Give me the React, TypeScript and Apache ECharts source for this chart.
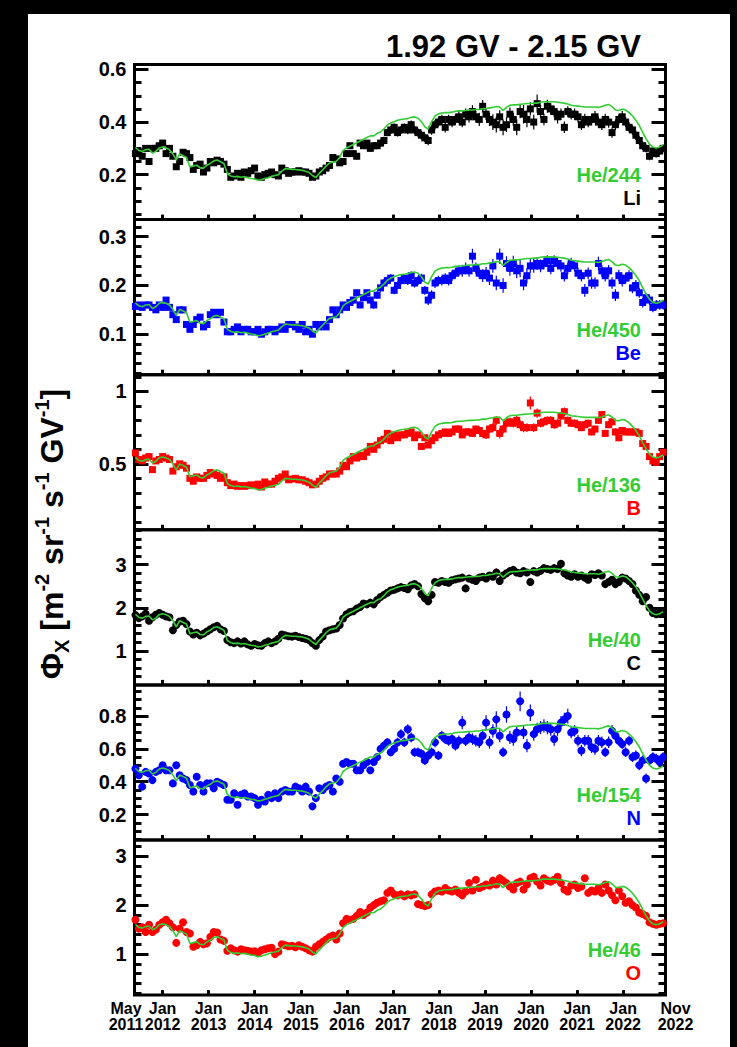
import { useEffect, useRef } from 'react';
import * as echarts from 'echarts';

const FONT = '"Liberation Sans", Arial, Helvetica, sans-serif';
const GREEN = '#33cc33';

// time axis (decimal years)
const X_MIN = 2011.39;
const X_MAX = 2022.92;
const FIRST_ROTATION = 2011.41;
const ROTATION_YEARS = 27 / 365.25;
const yearTicks = [2012, 2013, 2014, 2015, 2016, 2017, 2018, 2019, 2020, 2021, 2022];
const edgeLabels = ['May\n2011', 'Nov\n2022'];

// He flux (model curve), m^-2 sr^-1 s^-1 GV^-1, one value per Bartels rotation
const heFlux = [
  74.0, 71.2, 70.4, 72.0, 72.4, 68.8, 70.4, 73.6, 74.4, 73.6,
  72.0, 68.0, 62.4, 68.0, 66.4, 64.8, 56.0, 56.8, 57.6, 55.2,
  54.8, 57.6, 59.2, 61.6, 62.4, 60.8, 59.2, 49.6, 47.6, 46.8,
  47.2, 46.4, 46.8, 46.0, 45.2, 44.8, 43.6, 44.0, 45.2, 46.0,
  47.2, 48.0, 48.8, 52.0, 54.4, 54.0, 53.6, 53.6, 53.2, 52.8,
  52.0, 50.8, 48.0, 46.0, 50.0, 53.2, 56.8, 59.6, 60.4, 61.2,
  64.8, 71.2, 73.6, 75.2, 76.8, 78.4, 80.0, 81.6, 83.2, 84.8,
  84.8, 87.2, 88.4, 91.2, 94.8, 96.8, 98.0, 99.2, 100.0, 100.4,
  100.8, 102.0, 102.4, 101.2, 98.0, 93.2, 91.2, 98.0, 103.2, 105.2,
  106.0, 106.4, 106.4, 106.8, 107.6, 108.0, 108.0, 108.4, 108.8, 108.8,
  109.2, 109.2, 110.0, 110.0, 110.8, 111.2, 112.0, 111.6, 108.4, 111.2,
  113.2, 113.6, 113.6, 114.0, 114.4, 114.8, 114.8, 115.2, 115.2, 116.0,
  116.4, 116.4, 116.4, 116.4, 116.0, 115.6, 115.2, 114.4, 113.2, 112.8,
  112.4, 112.0, 111.6, 111.6, 111.6, 111.6, 111.2, 112.0, 113.2, 114.0,
  112.0, 108.8, 108.4, 109.6, 108.8, 106.4, 103.2, 99.2, 94.4, 88.0,
  82.0, 77.2, 74.4, 73.6, 74.4, 76.4,
];

const liFlux = [
  0.28, 0.285, 0.27, 0.30, 0.25, 0.30, 0.30, 0.31, 0.32, 0.28,
  0.30, 0.27, 0.23, 0.25, 0.285, 0.28, 0.265, 0.22, 0.235, 0.24,
  0.21, 0.225, 0.25, 0.245, 0.255, 0.25, 0.24, 0.22, 0.19, 0.195,
  0.205, 0.19, 0.21, 0.205, 0.215, 0.225, 0.195, 0.19, 0.20, 0.205,
  0.21, 0.20, 0.195, 0.225, 0.215, 0.205, 0.21, 0.21, 0.215, 0.21,
  0.21, 0.205, 0.19, 0.195, 0.21, 0.215, 0.225, 0.235, 0.265, 0.26,
  0.245, 0.25, 0.28, 0.31, 0.28, 0.27, 0.32, 0.31, 0.32, 0.30,
  0.31, 0.31, 0.32, 0.33, 0.36, 0.37, 0.38, 0.36, 0.37, 0.38,
  0.37, 0.39, 0.37, 0.36, 0.35, 0.34, 0.33, 0.37, 0.39, 0.40,
  0.41, 0.38, 0.41, 0.40, 0.41, 0.42, 0.40, 0.43, 0.42, 0.44,
  0.42, 0.41, 0.46, 0.43, 0.41, 0.40, 0.39, 0.42, 0.38, 0.39,
  0.43, 0.41, 0.38, 0.44, 0.43, 0.41, 0.45, 0.40, 0.47, 0.44,
  0.41, 0.46, 0.45, 0.44, 0.42, 0.43, 0.38, 0.44, 0.43, 0.43,
  0.42, 0.39, 0.41, 0.40, 0.41, 0.42, 0.40, 0.39, 0.41, 0.40,
  0.36, 0.39, 0.41, 0.42, 0.40, 0.38, 0.37, 0.35, 0.33, 0.31,
  0.30, 0.27, 0.29, 0.28, 0.29, 0.30,
];
const liErr = [
  0.008, 0.008, 0.008, 0.008, 0.008, 0.008, 0.008, 0.008, 0.008, 0.008,
  0.008, 0.008, 0.008, 0.008, 0.008, 0.008, 0.008, 0.008, 0.008, 0.008,
  0.008, 0.008, 0.008, 0.008, 0.008, 0.008, 0.008, 0.008, 0.008, 0.008,
  0.008, 0.008, 0.008, 0.008, 0.008, 0.008, 0.008, 0.008, 0.008, 0.008,
  0.008, 0.008, 0.008, 0.008, 0.008, 0.008, 0.008, 0.008, 0.008, 0.008,
  0.009, 0.009, 0.009, 0.009, 0.009, 0.009, 0.009, 0.009, 0.009, 0.009,
  0.010, 0.010, 0.012, 0.012, 0.012, 0.012, 0.012, 0.012, 0.012, 0.012,
  0.012, 0.012, 0.014, 0.014, 0.014, 0.015, 0.015, 0.015, 0.015, 0.015,
  0.016, 0.016, 0.016, 0.016, 0.016, 0.016, 0.018, 0.018, 0.018, 0.018,
  0.018, 0.020, 0.018, 0.020, 0.020, 0.022, 0.020, 0.022, 0.022, 0.024,
  0.022, 0.025, 0.024, 0.022, 0.025, 0.030, 0.030, 0.025, 0.030, 0.028,
  0.025, 0.025, 0.030, 0.025, 0.035, 0.030, 0.025, 0.028, 0.035, 0.025,
  0.022, 0.025, 0.022, 0.022, 0.025, 0.022, 0.022, 0.020, 0.020, 0.022,
  0.022, 0.020, 0.022, 0.020, 0.022, 0.022, 0.022, 0.020, 0.022, 0.022,
  0.020, 0.020, 0.020, 0.022, 0.020, 0.020, 0.018, 0.018, 0.016, 0.016,
  0.015, 0.015, 0.015, 0.015, 0.015, 0.015,
];

const beFlux = [
  0.157, 0.16, 0.155, 0.16, 0.16, 0.155, 0.15, 0.16, 0.155, 0.17,
  0.155, 0.14, 0.13, 0.15, 0.15, 0.12, 0.11, 0.12, 0.13, 0.135,
  0.115, 0.12, 0.14, 0.145, 0.14, 0.145, 0.125, 0.105, 0.105, 0.11,
  0.115, 0.105, 0.11, 0.11, 0.105, 0.105, 0.11, 0.10, 0.105, 0.11,
  0.11, 0.105, 0.11, 0.115, 0.11, 0.12, 0.12, 0.115, 0.11, 0.12,
  0.105, 0.11, 0.10, 0.12, 0.115, 0.12, 0.115, 0.13, 0.15, 0.14,
  0.15, 0.16, 0.155, 0.165, 0.17, 0.185, 0.16, 0.175, 0.185, 0.17,
  0.16, 0.18, 0.195, 0.205, 0.21, 0.215, 0.19, 0.20, 0.21, 0.215,
  0.21, 0.22, 0.205, 0.21, 0.215, 0.19, 0.17, 0.18, 0.205, 0.21,
  0.21, 0.215, 0.21, 0.22, 0.225, 0.23, 0.23, 0.235, 0.23, 0.26,
  0.235, 0.225, 0.22, 0.225, 0.215, 0.24, 0.205, 0.26, 0.20, 0.245,
  0.235, 0.245, 0.23, 0.235, 0.205, 0.22, 0.24, 0.24, 0.245, 0.24,
  0.245, 0.25, 0.235, 0.25, 0.245, 0.24, 0.22, 0.235, 0.245, 0.24,
  0.225, 0.22, 0.19, 0.225, 0.205, 0.205, 0.245, 0.23, 0.22, 0.23,
  0.205, 0.18, 0.22, 0.21, 0.215, 0.22, 0.195, 0.20, 0.185, 0.165,
  0.175, 0.17, 0.155, 0.16, 0.16, 0.16,
];
const beErr = [
  0.004, 0.004, 0.004, 0.004, 0.004, 0.004, 0.004, 0.004, 0.004, 0.004,
  0.004, 0.004, 0.004, 0.004, 0.004, 0.004, 0.004, 0.004, 0.004, 0.004,
  0.004, 0.004, 0.004, 0.004, 0.004, 0.004, 0.004, 0.004, 0.004, 0.004,
  0.004, 0.004, 0.004, 0.004, 0.004, 0.004, 0.004, 0.004, 0.004, 0.004,
  0.005, 0.005, 0.005, 0.005, 0.005, 0.005, 0.005, 0.005, 0.005, 0.005,
  0.005, 0.005, 0.005, 0.005, 0.005, 0.005, 0.005, 0.005, 0.005, 0.005,
  0.006, 0.006, 0.006, 0.006, 0.007, 0.007, 0.007, 0.007, 0.007, 0.007,
  0.008, 0.008, 0.008, 0.008, 0.008, 0.008, 0.008, 0.008, 0.008, 0.008,
  0.009, 0.009, 0.009, 0.009, 0.009, 0.009, 0.010, 0.010, 0.010, 0.010,
  0.010, 0.010, 0.010, 0.011, 0.011, 0.011, 0.012, 0.012, 0.012, 0.015,
  0.012, 0.012, 0.013, 0.013, 0.014, 0.014, 0.015, 0.016, 0.015, 0.015,
  0.015, 0.016, 0.015, 0.018, 0.015, 0.016, 0.014, 0.014, 0.013, 0.013,
  0.012, 0.012, 0.012, 0.012, 0.012, 0.012, 0.012, 0.012, 0.012, 0.012,
  0.012, 0.012, 0.013, 0.012, 0.012, 0.012, 0.014, 0.012, 0.012, 0.012,
  0.012, 0.012, 0.012, 0.012, 0.011, 0.011, 0.011, 0.011, 0.010, 0.010,
  0.010, 0.010, 0.010, 0.010, 0.010, 0.010,
];

const bFlux = [
  0.575, 0.53, 0.52, 0.54, 0.55, 0.46, 0.52, 0.53, 0.55, 0.54,
  0.53, 0.45, 0.48, 0.50, 0.49, 0.47, 0.40, 0.38, 0.41, 0.40,
  0.40, 0.42, 0.44, 0.43, 0.42, 0.40, 0.41, 0.37, 0.35, 0.36,
  0.345, 0.35, 0.345, 0.35, 0.355, 0.35, 0.36, 0.34, 0.375, 0.36,
  0.36, 0.38, 0.40, 0.41, 0.43, 0.39, 0.395, 0.40, 0.39, 0.39,
  0.38, 0.37, 0.355, 0.36, 0.38, 0.40, 0.41, 0.43, 0.43, 0.43,
  0.45, 0.49, 0.48, 0.52, 0.55, 0.54, 0.56, 0.55, 0.58, 0.62,
  0.60, 0.63, 0.66, 0.67, 0.71, 0.66, 0.70, 0.68, 0.70, 0.70,
  0.71, 0.72, 0.68, 0.70, 0.62, 0.68, 0.63, 0.66, 0.68, 0.70,
  0.71, 0.72, 0.71, 0.72, 0.74, 0.74, 0.70, 0.72, 0.72, 0.71,
  0.74, 0.73, 0.71, 0.70, 0.74, 0.75, 0.80, 0.71, 0.74, 0.78,
  0.79, 0.78, 0.80, 0.77, 0.75, 0.75, 0.92, 0.75, 0.85, 0.78,
  0.79, 0.80, 0.80, 0.77, 0.78, 0.83, 0.86, 0.80, 0.78, 0.78,
  0.77, 0.75, 0.77, 0.78, 0.72, 0.74, 0.80, 0.84, 0.71, 0.77,
  0.79, 0.72, 0.68, 0.73, 0.72, 0.72, 0.72, 0.72, 0.71, 0.64,
  0.62, 0.55, 0.52, 0.51, 0.55, 0.58,
];
const bErr = [
  0.012, 0.012, 0.012, 0.012, 0.012, 0.012, 0.012, 0.012, 0.012, 0.012,
  0.012, 0.012, 0.012, 0.012, 0.012, 0.012, 0.012, 0.012, 0.012, 0.012,
  0.012, 0.012, 0.012, 0.012, 0.012, 0.012, 0.012, 0.012, 0.012, 0.012,
  0.012, 0.012, 0.012, 0.012, 0.012, 0.012, 0.012, 0.012, 0.012, 0.012,
  0.012, 0.012, 0.012, 0.012, 0.012, 0.012, 0.012, 0.012, 0.012, 0.012,
  0.012, 0.012, 0.012, 0.012, 0.012, 0.012, 0.012, 0.012, 0.012, 0.012,
  0.014, 0.014, 0.014, 0.014, 0.014, 0.014, 0.014, 0.014, 0.014, 0.014,
  0.016, 0.016, 0.016, 0.016, 0.016, 0.016, 0.016, 0.016, 0.016, 0.016,
  0.018, 0.018, 0.018, 0.018, 0.018, 0.018, 0.018, 0.018, 0.018, 0.018,
  0.020, 0.020, 0.022, 0.022, 0.022, 0.024, 0.024, 0.025, 0.025, 0.025,
  0.025, 0.026, 0.026, 0.028, 0.028, 0.030, 0.030, 0.035, 0.030, 0.030,
  0.030, 0.030, 0.030, 0.030, 0.032, 0.030, 0.045, 0.030, 0.032, 0.030,
  0.028, 0.028, 0.028, 0.028, 0.028, 0.026, 0.028, 0.026, 0.026, 0.026,
  0.025, 0.025, 0.025, 0.025, 0.025, 0.025, 0.025, 0.025, 0.025, 0.025,
  0.025, 0.025, 0.024, 0.024, 0.024, 0.022, 0.022, 0.022, 0.020, 0.020,
  0.020, 0.020, 0.020, 0.020, 0.020, 0.020,
];

const cFlux = [
  1.83, 1.76, 1.80, 1.86, 1.70, 1.78, 1.84, 1.88, 1.84, 1.80,
  1.78, 1.48, 1.60, 1.68, 1.70, 1.62, 1.45, 1.38, 1.42, 1.36,
  1.40, 1.45, 1.50, 1.55, 1.58, 1.50, 1.46, 1.25, 1.20, 1.18,
  1.22, 1.17, 1.22, 1.15, 1.12, 1.16, 1.13, 1.12, 1.18, 1.22,
  1.18, 1.22, 1.28, 1.38, 1.36, 1.34, 1.33, 1.35, 1.32, 1.30,
  1.28, 1.25, 1.18, 1.12, 1.25, 1.33, 1.45, 1.48, 1.50, 1.52,
  1.60, 1.75, 1.85, 1.90, 1.92, 1.98, 2.02, 2.10, 2.08, 2.12,
  2.08, 2.18, 2.25, 2.30, 2.35, 2.40, 2.42, 2.45, 2.48, 2.46,
  2.43, 2.52, 2.55, 2.50, 2.32, 2.22, 2.15, 2.30, 2.60, 2.58,
  2.62, 2.60, 2.58, 2.64, 2.66, 2.68, 2.70, 2.45, 2.68, 2.65,
  2.62, 2.70, 2.72, 2.68, 2.75, 2.72, 2.82, 2.62, 2.75, 2.80,
  2.85, 2.88, 2.82, 2.80, 2.85, 2.82, 2.60, 2.85, 2.82, 2.86,
  2.92, 2.90, 2.88, 2.92, 2.90, 3.02, 2.80, 2.75, 2.72, 2.78,
  2.72, 2.75, 2.70, 2.65, 2.78, 2.76, 2.80, 2.75, 2.55, 2.60,
  2.65, 2.55, 2.60, 2.70, 2.68, 2.62, 2.55, 2.40, 2.30, 2.15,
  2.25, 2.00, 1.88, 1.85, 1.88, 1.90,
];
const cErr = [
  0.03, 0.03, 0.03, 0.03, 0.03, 0.03, 0.03, 0.03, 0.03, 0.03,
  0.03, 0.03, 0.03, 0.03, 0.03, 0.03, 0.03, 0.03, 0.03, 0.03,
  0.03, 0.03, 0.03, 0.03, 0.03, 0.03, 0.03, 0.03, 0.03, 0.03,
  0.03, 0.03, 0.03, 0.03, 0.03, 0.03, 0.03, 0.03, 0.03, 0.03,
  0.03, 0.03, 0.03, 0.03, 0.03, 0.03, 0.03, 0.03, 0.03, 0.03,
  0.03, 0.03, 0.03, 0.03, 0.03, 0.03, 0.03, 0.03, 0.03, 0.03,
  0.04, 0.04, 0.04, 0.04, 0.04, 0.04, 0.04, 0.04, 0.04, 0.04,
  0.04, 0.04, 0.04, 0.04, 0.04, 0.04, 0.04, 0.04, 0.04, 0.04,
  0.04, 0.04, 0.04, 0.04, 0.04, 0.04, 0.04, 0.04, 0.04, 0.04,
  0.05, 0.05, 0.05, 0.05, 0.05, 0.05, 0.05, 0.07, 0.05, 0.05,
  0.06, 0.06, 0.06, 0.06, 0.06, 0.06, 0.09, 0.06, 0.06, 0.06,
  0.06, 0.07, 0.06, 0.06, 0.06, 0.06, 0.08, 0.06, 0.06, 0.06,
  0.06, 0.06, 0.06, 0.06, 0.06, 0.07, 0.06, 0.06, 0.06, 0.06,
  0.05, 0.05, 0.05, 0.05, 0.05, 0.05, 0.05, 0.05, 0.06, 0.05,
  0.05, 0.06, 0.05, 0.05, 0.05, 0.05, 0.05, 0.05, 0.05, 0.05,
  0.05, 0.05, 0.05, 0.05, 0.05, 0.05,
];

const nFlux = [
  0.48, 0.44, 0.37, 0.46, 0.45, 0.41, 0.46, 0.47, 0.50, 0.47,
  0.47, 0.39, 0.50, 0.44, 0.42, 0.41, 0.38, 0.34, 0.43, 0.38,
  0.34, 0.39, 0.39, 0.36, 0.40, 0.39, 0.38, 0.29, 0.29, 0.33,
  0.26, 0.32, 0.33, 0.31, 0.31, 0.30, 0.26, 0.29, 0.28, 0.32,
  0.30, 0.33, 0.30, 0.34, 0.35, 0.34, 0.34, 0.37, 0.36, 0.34,
  0.37, 0.34, 0.25, 0.30, 0.36, 0.35, 0.37, 0.38, 0.34, 0.42,
  0.40, 0.51, 0.52, 0.51, 0.51, 0.47, 0.47, 0.50, 0.52, 0.47,
  0.52, 0.55, 0.60, 0.62, 0.64, 0.58, 0.60, 0.64, 0.69, 0.64,
  0.72, 0.67, 0.58, 0.58, 0.57, 0.53, 0.56, 0.58, 0.64, 0.56,
  0.68, 0.66, 0.65, 0.66, 0.62, 0.65, 0.76, 0.65, 0.67, 0.66,
  0.65, 0.64, 0.68, 0.76, 0.64, 0.71, 0.78, 0.68, 0.58, 0.81,
  0.67, 0.66, 0.70, 0.89, 0.70, 0.62, 0.82, 0.69, 0.72, 0.73,
  0.74, 0.73, 0.72, 0.66, 0.72, 0.76, 0.78, 0.80, 0.70, 0.71,
  0.65, 0.59, 0.65, 0.65, 0.61, 0.60, 0.65, 0.64, 0.58, 0.64,
  0.71, 0.68, 0.65, 0.63, 0.58, 0.65, 0.55, 0.56, 0.50, 0.53,
  0.42, 0.53, 0.55, 0.54, 0.52, 0.55,
];
const nErr = [
  0.015, 0.015, 0.015, 0.015, 0.015, 0.015, 0.015, 0.015, 0.015, 0.015,
  0.015, 0.015, 0.015, 0.015, 0.015, 0.015, 0.015, 0.015, 0.015, 0.015,
  0.015, 0.015, 0.015, 0.015, 0.015, 0.015, 0.015, 0.015, 0.015, 0.015,
  0.015, 0.015, 0.015, 0.015, 0.015, 0.015, 0.015, 0.015, 0.015, 0.015,
  0.015, 0.015, 0.015, 0.015, 0.015, 0.015, 0.015, 0.015, 0.015, 0.015,
  0.015, 0.015, 0.015, 0.015, 0.015, 0.015, 0.015, 0.015, 0.015, 0.015,
  0.020, 0.020, 0.020, 0.020, 0.020, 0.020, 0.020, 0.020, 0.020, 0.020,
  0.020, 0.022, 0.022, 0.024, 0.025, 0.025, 0.025, 0.028, 0.030, 0.028,
  0.030, 0.030, 0.028, 0.028, 0.028, 0.028, 0.028, 0.028, 0.030, 0.028,
  0.030, 0.030, 0.030, 0.030, 0.030, 0.032, 0.040, 0.032, 0.035, 0.035,
  0.035, 0.035, 0.038, 0.045, 0.038, 0.040, 0.050, 0.040, 0.030, 0.050,
  0.040, 0.040, 0.040, 0.060, 0.040, 0.040, 0.050, 0.040, 0.040, 0.040,
  0.040, 0.040, 0.040, 0.040, 0.040, 0.040, 0.040, 0.045, 0.035, 0.035,
  0.035, 0.035, 0.035, 0.035, 0.035, 0.035, 0.035, 0.035, 0.030, 0.035,
  0.035, 0.035, 0.030, 0.030, 0.030, 0.030, 0.030, 0.030, 0.030, 0.030,
  0.030, 0.030, 0.030, 0.030, 0.030, 0.030,
];

const oFlux = [
  1.70, 1.52, 1.55, 1.45, 1.60, 1.45, 1.50, 1.60, 1.65, 1.70,
  1.63, 1.55, 1.23, 1.52, 1.65, 1.45, 1.42, 1.15, 1.18, 1.25,
  1.20, 1.22, 1.35, 1.45, 1.44, 1.30, 1.27, 1.07, 1.12, 1.08,
  1.05, 1.10, 1.08, 1.07, 1.05, 1.06, 1.02, 1.08, 1.10, 1.12,
  1.13, 1.00, 1.05, 1.20, 1.18, 1.16, 1.17, 1.14, 1.18, 1.15,
  1.12, 1.08, 1.05, 1.15, 1.20, 1.25, 1.30, 1.35, 1.38, 1.30,
  1.42, 1.63, 1.72, 1.70, 1.72, 1.78, 1.86, 1.80, 1.85, 1.95,
  2.00, 2.05, 2.08, 2.10, 2.25, 2.30, 2.22, 2.20, 2.22, 2.18,
  2.22, 2.20, 2.22, 2.02, 2.00, 1.98, 2.00, 2.22, 2.28, 2.30,
  2.28, 2.35, 2.30, 2.28, 2.32, 2.25, 2.20, 2.28, 2.45, 2.30,
  2.52, 2.35, 2.38, 2.42, 2.40, 2.50, 2.42, 2.55, 2.50, 2.45,
  2.38, 2.32, 2.45, 2.48, 2.32, 2.42, 2.55, 2.58, 2.48, 2.40,
  2.55, 2.50, 2.48, 2.52, 2.58, 2.45, 2.32, 2.28, 2.40, 2.42,
  2.35, 2.38, 2.55, 2.25, 2.30, 2.28, 2.35, 2.25, 2.42, 2.30,
  2.20, 2.10, 2.30, 2.18, 2.05, 2.08, 2.00, 1.95, 1.85, 1.82,
  1.78, 1.65, 1.62, 1.60, 1.62, 1.63,
];
const oErr = [
  0.035, 0.035, 0.035, 0.035, 0.035, 0.035, 0.035, 0.035, 0.035, 0.035,
  0.035, 0.035, 0.035, 0.035, 0.035, 0.035, 0.035, 0.035, 0.035, 0.035,
  0.035, 0.035, 0.035, 0.035, 0.035, 0.035, 0.035, 0.035, 0.035, 0.035,
  0.035, 0.035, 0.035, 0.035, 0.035, 0.035, 0.035, 0.035, 0.035, 0.035,
  0.035, 0.035, 0.035, 0.035, 0.035, 0.035, 0.035, 0.035, 0.035, 0.035,
  0.035, 0.035, 0.035, 0.035, 0.035, 0.035, 0.035, 0.035, 0.035, 0.035,
  0.045, 0.045, 0.045, 0.045, 0.045, 0.045, 0.045, 0.045, 0.045, 0.045,
  0.045, 0.045, 0.045, 0.045, 0.045, 0.045, 0.045, 0.045, 0.045, 0.045,
  0.045, 0.045, 0.045, 0.045, 0.045, 0.045, 0.045, 0.045, 0.045, 0.045,
  0.050, 0.050, 0.050, 0.050, 0.050, 0.050, 0.050, 0.050, 0.060, 0.050,
  0.060, 0.060, 0.060, 0.060, 0.060, 0.060, 0.060, 0.080, 0.060, 0.060,
  0.060, 0.060, 0.060, 0.060, 0.060, 0.060, 0.070, 0.080, 0.060, 0.060,
  0.060, 0.060, 0.060, 0.060, 0.060, 0.060, 0.060, 0.060, 0.060, 0.060,
  0.050, 0.050, 0.070, 0.050, 0.050, 0.050, 0.050, 0.050, 0.060, 0.050,
  0.050, 0.050, 0.050, 0.050, 0.050, 0.050, 0.050, 0.050, 0.050, 0.050,
  0.050, 0.050, 0.050, 0.050, 0.050, 0.050,
];

const panels = [
  { ion: 'Li', heLabel: 'He/244', factor: 244, color: '#000000', symbol: 'rect', size: 7, values: liFlux, errors: liErr, min: 0.029, max: 0.619, major: [0.2, 0.4, 0.6], step: 0.05 },
  { ion: 'Be', heLabel: 'He/450', factor: 450, color: '#0000ff', symbol: 'rect', size: 7, values: beFlux, errors: beErr, min: 0.017, max: 0.335, major: [0.1, 0.2, 0.3], step: 0.02 },
  { ion: 'B', heLabel: 'He/136', factor: 136, color: '#ff0000', symbol: 'rect', size: 7, values: bFlux, errors: bErr, min: 0.045, max: 1.115, major: [0.5, 1], step: 0.1 },
  { ion: 'C', heLabel: 'He/40', factor: 40, color: '#000000', symbol: 'circle', size: 8, values: cFlux, errors: cErr, min: 0.21, max: 3.81, major: [1, 2, 3], step: 0.2 },
  { ion: 'N', heLabel: 'He/154', factor: 154, color: '#0000ff', symbol: 'circle', size: 8, values: nFlux, errors: nErr, min: 0.045, max: 0.99, major: [0.2, 0.4, 0.6, 0.8], step: 0.05 },
  { ion: 'O', heLabel: 'He/46', factor: 46, color: '#ff0000', symbol: 'circle', size: 8, values: oFlux, errors: oErr, min: 0.163, max: 3.33, major: [1, 2, 3], step: 0.2 },
];

const PANEL_TOP = 64.5;
const PANEL_H = 155.1;
const GRID_LEFT = 134.5;
const GRID_W = 531;

function minorTicks(min: number, max: number, step: number, major: number[]) {
  const out: number[] = [];
  const start = Math.ceil(min / step - 1e-9);
  const end = Math.floor(max / step + 1e-9);
  for (let k = start; k <= end; k++) {
    const v = Math.round(k * step * 1000) / 1000;
    if (!major.some((m) => Math.abs(m - v) < 1e-6)) out.push(v);
  }
  return out;
}

const labelText = { fontSize: 16, fontWeight: 'bold', fontFamily: FONT, color: '#000', lineHeight: 16 };

export default function App() {
  const ref = useRef<HTMLDivElement>(null);

  useEffect(() => {
    if (!ref.current) return;
    const chart = echarts.init(ref.current, null, { renderer: 'svg' });
    const times = heFlux.map((_, i) => FIRST_ROTATION + i * ROTATION_YEARS);

    const grids: any[] = [];
    const xAxes: any[] = [];
    const yAxes: any[] = [];
    const series: any[] = [];
    const graphics: any[] = [];

    panels.forEach((p, k) => {
      const top = PANEL_TOP + k * PANEL_H;
      grids.push({ left: GRID_LEFT, width: GRID_W, top, height: PANEL_H, show: true, borderColor: '#000', borderWidth: 3, backgroundColor: 'transparent' });
      const last = k === panels.length - 1;
      xAxes.push({
        type: 'value', gridIndex: k, min: X_MIN, max: X_MAX,
        axisLine: { show: false }, splitLine: { show: false },
        axisTick: { show: true, inside: true, length: 5, customValues: yearTicks, lineStyle: { width: 3, color: '#000' } },
        axisLabel: last
          ? {
              show: true, customValues: yearTicks, margin: 5,
              formatter: (v: number) => '{a|Jan}\n{a|' + Math.round(v) + '}',
              rich: { a: labelText },
            }
          : { show: false },
      });
      const minors = minorTicks(p.min, p.max, p.step, p.major);
      const base = { type: 'value', gridIndex: k, min: p.min, max: p.max, axisLine: { show: false }, splitLine: { show: false } };
      const yIdx = yAxes.length;
      yAxes.push({
        ...base, position: 'left',
        axisTick: { show: true, inside: true, length: 14, customValues: p.major, lineStyle: { width: 3, color: '#000' } },
        axisLabel: { show: true, customValues: p.major, fontSize: 20, fontWeight: 'bold', fontFamily: FONT, color: '#000', margin: 8 },
      });
      yAxes.push({
        ...base, position: 'left',
        axisTick: { show: true, inside: true, length: 7, customValues: minors, lineStyle: { width: 3, color: '#000' } },
        axisLabel: { show: false },
      });
      yAxes.push({
        ...base, position: 'right',
        axisTick: { show: true, inside: true, length: 14, customValues: p.major, lineStyle: { width: 3, color: '#000' } },
        axisLabel: { show: false },
      });
      yAxes.push({
        ...base, position: 'right',
        axisTick: { show: true, inside: true, length: 7, customValues: minors, lineStyle: { width: 3, color: '#000' } },
        axisLabel: { show: false },
      });

      // error bars
      series.push({
        type: 'custom', name: p.ion + ' errors', xAxisIndex: k, yAxisIndex: yIdx, clip: true,
        data: p.values.map((v, i) => [times[i], v, p.errors[i]]),
        encode: { x: 0, y: 1 },
        renderItem: (params: any, api: any) => {
          const x = api.value(0);
          const y = api.value(1);
          const e = api.value(2);
          const lo = api.coord([x, y - e]);
          const hi = api.coord([x, y + e]);
          return {
            type: 'line',
            shape: { x1: lo[0], y1: lo[1], x2: hi[0], y2: hi[1] },
            style: { stroke: p.color, lineWidth: 1.2 },
          };
        },
        z: 2,
      });
      series.push({
        type: 'scatter', name: p.ion, xAxisIndex: k, yAxisIndex: yIdx,
        data: p.values.map((v, i) => [times[i], v]),
        symbol: p.symbol, symbolSize: p.size,
        itemStyle: { color: p.color, opacity: 1 }, z: 3,
      });
      series.push({
        type: 'line', name: p.heLabel, xAxisIndex: k, yAxisIndex: yIdx,
        data: heFlux.map((v, i) => [times[i], v / p.factor]),
        showSymbol: false, symbol: 'none',
        lineStyle: { color: GREEN, width: 1.6 }, z: 4,
      });

      graphics.push({
        type: 'text', x: 641, y: top + 110,
        style: { text: p.heLabel, fill: GREEN, font: 'bold 20px ' + FONT, align: 'right', verticalAlign: 'middle' },
      });
      graphics.push({
        type: 'text', x: 641, y: top + 133,
        style: { text: p.ion, fill: p.color, font: 'bold 20px ' + FONT, align: 'right', verticalAlign: 'middle' },
      });
    });

    // separate axis for the edge labels (May 2011 / Nov 2022) so they never hide the year labels
    xAxes.push({
      type: 'value', gridIndex: panels.length - 1, min: X_MIN, max: X_MAX, position: 'bottom',
      axisLine: { show: false }, splitLine: { show: false }, axisTick: { show: false },
      axisLabel: {
        show: true, customValues: [X_MIN, X_MAX], margin: 5, showMinLabel: true, showMaxLabel: true,
        formatter: (v: number) => {
          const isMin = Math.abs(v - X_MIN) < 1e-6;
          const [m, y] = (isMin ? edgeLabels[0] : edgeLabels[1]).split('\n');
          const tag = isMin ? 'l' : 'r';
          return '{' + tag + '|' + m + '}\n{' + tag + '|' + y + '}';
        },
        rich: {
          l: { ...labelText, padding: [0, 17, 0, 0] },
          r: { ...labelText, padding: [0, 0, 0, 20] },
        },
      },
    });

    graphics.push({
      type: 'text', x: 641, y: 46,
      style: { text: '1.92 GV - 2.15 GV', fill: '#000', font: 'bold 31px ' + FONT, align: 'right', verticalAlign: 'middle' },
    });
    graphics.push({
      type: 'text', x: 52, y: 534, rotation: Math.PI / 2,
      style: {
        text: '{b|Φ}{s|X}{b| [m}{p|-2}{b| sr}{p|-1}{b| s}{p|-1}{b| GV}{p|-1}{b|]}',
        align: 'center', verticalAlign: 'middle', fill: '#000',
        rich: {
          b: { fontSize: 32, fontWeight: 'bold', fontFamily: FONT, fill: '#000', lineHeight: 40 },
          p: { fontSize: 20, fontWeight: 'bold', fontFamily: FONT, fill: '#000', lineHeight: 20, verticalAlign: 'top' },
          s: { fontSize: 20, fontWeight: 'bold', fontFamily: FONT, fill: '#000', lineHeight: 20, verticalAlign: 'bottom' },
        },
      },
    });

    chart.setOption({
      animation: false,
      backgroundColor: 'transparent',
      grid: grids,
      xAxis: xAxes,
      yAxis: yAxes,
      series,
      graphic: graphics,
    });
    return () => chart.dispose();
  }, []);

  return (
    <div style={{ position: 'absolute', left: 0, top: 0, width: 737, height: 1047, background: '#000', overflow: 'hidden' }}>
      <div style={{ position: 'absolute', left: 28, top: 14, width: 702, height: 1033, background: '#fff' }} />
      <div ref={ref} style={{ position: 'absolute', left: 0, top: 0, width: 737, height: 1047 }} />
    </div>
  );
}
